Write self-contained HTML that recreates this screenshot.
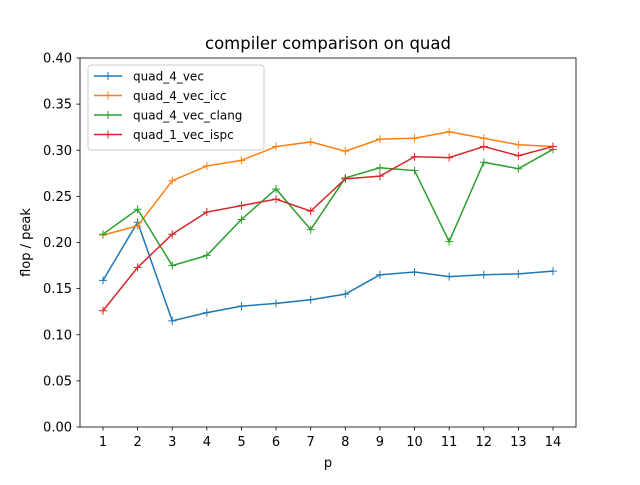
<!DOCTYPE html>
<html><head><meta charset="utf-8"><style>
body{margin:0;background:#fff;}
svg text{font-family:"DejaVu Sans","Liberation Sans",sans-serif;}
</style></head><body>
<svg id="chart" width="640" height="480" xmlns="http://www.w3.org/2000/svg">
<rect width="640" height="480" fill="#fff"/>
<text x="328" y="49" font-size="16.5" text-anchor="middle">compiler comparison on quad</text>
<g id="grid"></g>
<g id="series"></g>
<rect x="80" y="58" width="496" height="369" fill="none" stroke="#000" stroke-width="0.8"/>
<text x="328" y="467" font-size="13" text-anchor="middle">p</text>
<text transform="translate(30,242.5) rotate(-90)" font-size="13" text-anchor="middle">flop / peak</text>
<g id="legend"></g>
</svg>
<script>
const categories=[1,2,3,4,5,6,7,8,9,10,11,12,13,14];
const seriesNames=["quad_4_vec","quad_4_vec_icc","quad_4_vec_clang","quad_1_vec_ispc"];
const quad4vec=[0.159,0.222,0.115,0.124,0.131,0.134,0.138,0.144,0.165,0.168,0.163,0.165,0.166,0.169];
const quad4icc=[0.208,0.218,0.267,0.283,0.289,0.304,0.309,0.299,0.312,0.313,0.320,0.313,0.306,0.304];
const quad4clang=[0.209,0.236,0.175,0.186,0.225,0.258,0.214,0.270,0.281,0.278,0.201,0.287,0.280,0.301];
const quad1ispc=[0.126,0.173,0.209,0.233,0.240,0.247,0.234,0.269,0.272,0.293,0.292,0.304,0.294,0.304];
const yTicks=[0,0.05,0.10,0.15,0.20,0.25,0.30,0.35,0.40];
const colors=["#1f77b4","#ff7f0e","#2ca02c","#d62728"];
const NS="http://www.w3.org/2000/svg";
const xs=v=>103+(v-1)*(553-103)/13;
const ys=v=>427-v*(369/0.4);
function mk(t,a,p){const e=document.createElementNS(NS,t);for(const k in a)e.setAttribute(k,a[k]);p.appendChild(e);return e;}
const g=document.getElementById('grid');
yTicks.forEach(t=>{
 const l=mk('line',{x1:76.5,x2:80,y1:ys(t),y2:ys(t),stroke:'#000','stroke-width':0.8},g);
 
 
 const tx=mk('text',{x:72,y:ys(t)+4.5,'font-size':13,'text-anchor':'end'},g);tx.textContent=t.toFixed(2);
 
 
});
categories.forEach(c=>{
 const l=mk('line',{x1:xs(c),x2:xs(c),y1:427,y2:430.5,stroke:'#000','stroke-width':0.8},g);
 
 
 const tx=mk('text',{x:xs(c),y:446,'font-size':13,'text-anchor':'middle'},g);tx.textContent=c;
 
 
});
const S=document.getElementById('series');
[quad4vec,quad4icc,quad4clang,quad1ispc].forEach((d,i)=>{
 const pts=d.map((v,j)=>xs(categories[j])+','+ys(v)).join(' ');
 const pl=mk('polyline',{points:pts,fill:'none',stroke:colors[i],'stroke-width':1.5},S);
 
 
 d.forEach((v,j)=>{
  const x=xs(categories[j]),y=ys(v);
  const m=mk('path',{d:`M${x-4},${y}H${x+4}M${x},${y-4}V${y+4}`,stroke:colors[i],'stroke-width':1},S);
  
  
 });
});
const L=document.getElementById('legend');
const box=mk('rect',{x:88,y:65,width:176,height:85,rx:3,fill:'#fff','fill-opacity':0.8,stroke:'#ccc'},L);


seriesNames.forEach((n,i)=>{
 const y=76+i*19.5;
 mk('line',{x1:94,x2:122,y1:y,y2:y,stroke:colors[i],'stroke-width':1.5},L);
 mk('path',{d:`M104,${y}H112M108,${y-4}V${y+4}`,stroke:colors[i]},L);
 const t=mk('text',{x:133,y:y+4.5,'font-size':12},L);t.textContent=n;
 
 
});
</script>
</body></html>
